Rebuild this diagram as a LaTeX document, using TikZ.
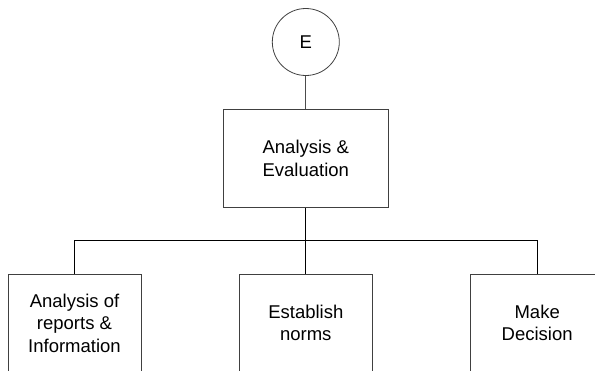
\documentclass[tikz,border=0pt]{standalone}
\usepackage{fontspec}
\setmainfont{Liberation Sans}
\begin{document}
\begin{tikzpicture}[x=1pt,y=1pt,
  every node/.style={font=\fontsize{18.5}{22.5}\selectfont, align=center},
  box/.style={draw=black!75, line width=0.8pt, rectangle, inner sep=0pt},
  lowbox/.style={box, minimum width=133pt, minimum height=98pt},
  link/.style={draw=black, line width=1.1pt},
  thin link/.style={draw=black!70, line width=0.8pt}]
\useasboundingbox (0,0) rectangle (595,-370);
\clip (0,0) rectangle (595,-370);
\node[draw=black!75, line width=0.8pt, circle, minimum size=67pt, inner sep=0pt] (e) at (305.8,-42) {E};
\node[box, minimum width=165pt, minimum height=98.7pt] (main) at (305.8,-158.3) {Analysis \&\\Evaluation};
\node[lowbox] (left) at (74.5,-323) {Analysis of\\reports \&\\Information};
\node[lowbox] (mid) at (305.8,-323) {Establish\\norms};
\node[lowbox] (right) at (537.2,-323) {Make\\Decision};
\coordinate (bus) at (305.8,-240.7);
\draw[thin link] (e.south) -- (main.north);
\draw[link] (main.south) -- (bus);
\draw[link] (left.north) |- (bus) -| (right.north);
\draw[link] (bus) -- (mid.north);
\end{tikzpicture}
\end{document}
